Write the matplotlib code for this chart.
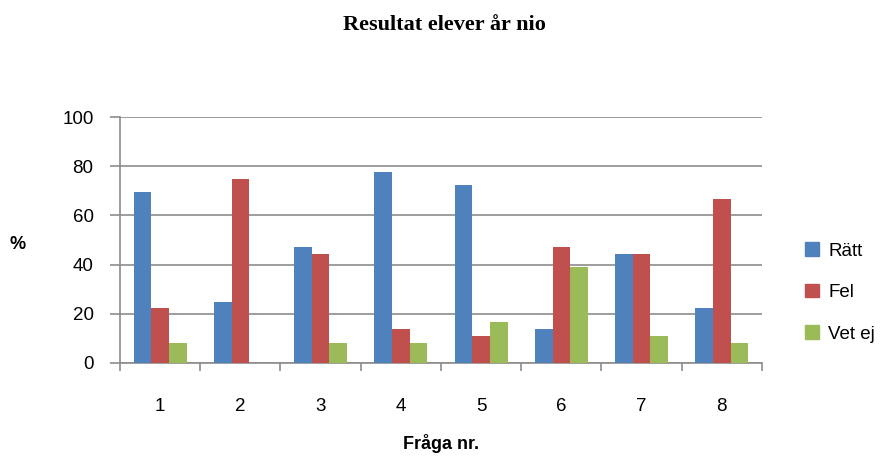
import numpy as np
import matplotlib
matplotlib.use("Agg")
import matplotlib.pyplot as plt
from matplotlib.patches import Patch

# Data
questions = ["1", "2", "3", "4", "5", "6", "7", "8"]
ratt   = [69.4, 25.0, 47.2, 77.8, 72.2, 13.9, 44.4, 22.2]
fel    = [22.2, 75.0, 44.4, 13.9, 11.1, 47.2, 44.4, 66.7]
vet_ej = [8.3, 0.0, 8.3, 8.3, 16.7, 38.9, 11.1, 8.3]
series_names = ["Rätt", "Fel", "Vet ej"]
colors = ["#4F81BD", "#C0504D", "#9BBB59"]

plt.rcParams["font.family"] = ["Liberation Sans", "DejaVu Sans"]

fig = plt.figure(figsize=(8.88, 4.57), dpi=100)
ax = fig.add_axes([0.1351, 0.2057, 0.7230, 0.538])

x = np.arange(1, len(questions) + 1)
w = 0.22
for i, (vals, c) in enumerate(zip([ratt, fel, vet_ej], colors)):
    ax.bar(x + (i - 1) * w, vals, width=w, color=c, zorder=3)

ax.set_xlim(0.5, 8.5)
ax.set_ylim(0, 100)
ax.set_yticks(range(0, 101, 20))
ax.yaxis.grid(True, color="#8C8C8C", linewidth=1.2, zorder=0)

ax.set_xticks(x)
ax.set_xticklabels(questions)
ax.set_xticks(np.arange(0.5, 9, 1), minor=True)
ax.tick_params(axis="x", which="major", length=0, pad=25, labelsize=13.5)
ax.tick_params(axis="x", which="minor", length=6, color="#8C8C8C", width=1.2)
ax.tick_params(axis="y", length=7, color="#8C8C8C", width=1.2, pad=12,
               labelsize=13.5)

for s in ["top", "right"]:
    ax.spines[s].set_visible(False)
for s in ["left", "bottom"]:
    ax.spines[s].set_color("#8C8C8C")
    ax.spines[s].set_linewidth(1.2)

fig.text(0.5, 0.945, "Resultat elever år nio", ha="center", va="center",
         fontsize=16, fontweight="bold", family="Liberation Serif")
fig.text(0.02, 0.464, "%", ha="center", va="center", fontsize=13,
         fontweight="bold")
fig.text(0.497, 0.03, "Fråga nr.", ha="center", va="center", fontsize=13,
         fontweight="bold")

handles = [Patch(color=c, label=n) for c, n in zip(colors, series_names)]
fig.legend(handles=handles, loc="center left", bbox_to_anchor=(0.896, 0.36),
           frameon=False, fontsize=13.5, handlelength=0.75, handleheight=0.7,
           labelspacing=1.3, handletextpad=0.5, borderpad=0)

fig.savefig("out.png", dpi=100)
